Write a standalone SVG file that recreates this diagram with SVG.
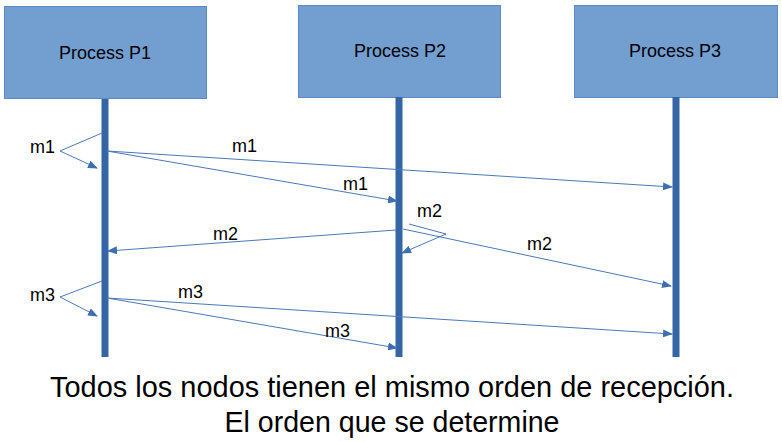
<svg xmlns="http://www.w3.org/2000/svg" width="782" height="442" viewBox="0 0 782 442">
<defs>
<marker id="ah" markerWidth="10" markerHeight="8" refX="9" refY="4" orient="auto" markerUnits="userSpaceOnUse">
<path d="M0,0 L10,4 L0,8 Z" fill="#3f6fb0"/>
</marker>
<style>
.box{fill:#729fcf;stroke:#5d8ac4;stroke-width:1}
.life{stroke:#3465a5;stroke-width:7}
.msg{fill:none;stroke:#4a78b8;stroke-width:1}
.arr{marker-end:url(#ah)}
.lbl{font-family:"Liberation Sans",Arial,sans-serif;font-size:18px;fill:#000}
.cap{font-family:"Liberation Sans",Arial,sans-serif;font-size:29px;fill:#000;text-anchor:middle}
</style>
</defs>
<rect width="782" height="442" fill="#fff"/>
<g id="p1">
<rect class="box" x="4.5" y="6.5" width="202" height="92"/>
<line class="life" x1="105" y1="99" x2="105" y2="357"/>
<text class="lbl" x="105" y="59" text-anchor="middle">Process P1</text>
</g>
<g id="p2">
<rect class="box" x="298.5" y="5.5" width="202" height="92"/>
<line class="life" x1="399" y1="97" x2="399" y2="357"/>
<text class="lbl" x="400" y="57" text-anchor="middle">Process P2</text>
</g>
<g id="p3">
<rect class="box" x="574.5" y="5.5" width="203" height="92"/>
<line class="life" x1="676" y1="97" x2="676" y2="357"/>
<text class="lbl" x="675" y="57" text-anchor="middle">Process P3</text>
</g>
<g id="connectors">
<polyline class="msg arr" points="102,133 60,151 97,168"/>
<line class="msg arr" x1="107" y1="151" x2="672" y2="187"/>
<line class="msg arr" x1="107" y1="151" x2="397" y2="201"/>
<line class="msg arr" x1="396" y1="230" x2="108" y2="251"/>
<polyline class="msg arr" points="409,224 446,234 402,253"/>
<line class="msg arr" x1="403" y1="229" x2="671" y2="286"/>
<polyline class="msg arr" points="102,281 60,297 97,316"/>
<line class="msg arr" x1="107" y1="298" x2="672" y2="334"/>
<line class="msg arr" x1="107" y1="298" x2="397" y2="348"/>
</g>
<g id="labels">
<text class="lbl" x="30" y="153">m1</text>
<text class="lbl" x="232" y="152">m1</text>
<text class="lbl" x="343" y="190">m1</text>
<text class="lbl" x="417" y="217">m2</text>
<text class="lbl" x="213" y="240">m2</text>
<text class="lbl" x="527" y="250">m2</text>
<text class="lbl" x="30" y="301">m3</text>
<text class="lbl" x="178" y="298">m3</text>
<text class="lbl" x="325" y="337">m3</text>
</g>
<g id="caption">
<text class="cap" x="392" y="397" textLength="684" lengthAdjust="spacingAndGlyphs">Todos los nodos tienen el mismo orden de recepción.</text>
<text class="cap" x="392" y="432" textLength="335" lengthAdjust="spacingAndGlyphs">El orden que se determine</text>
</g>
</svg>
